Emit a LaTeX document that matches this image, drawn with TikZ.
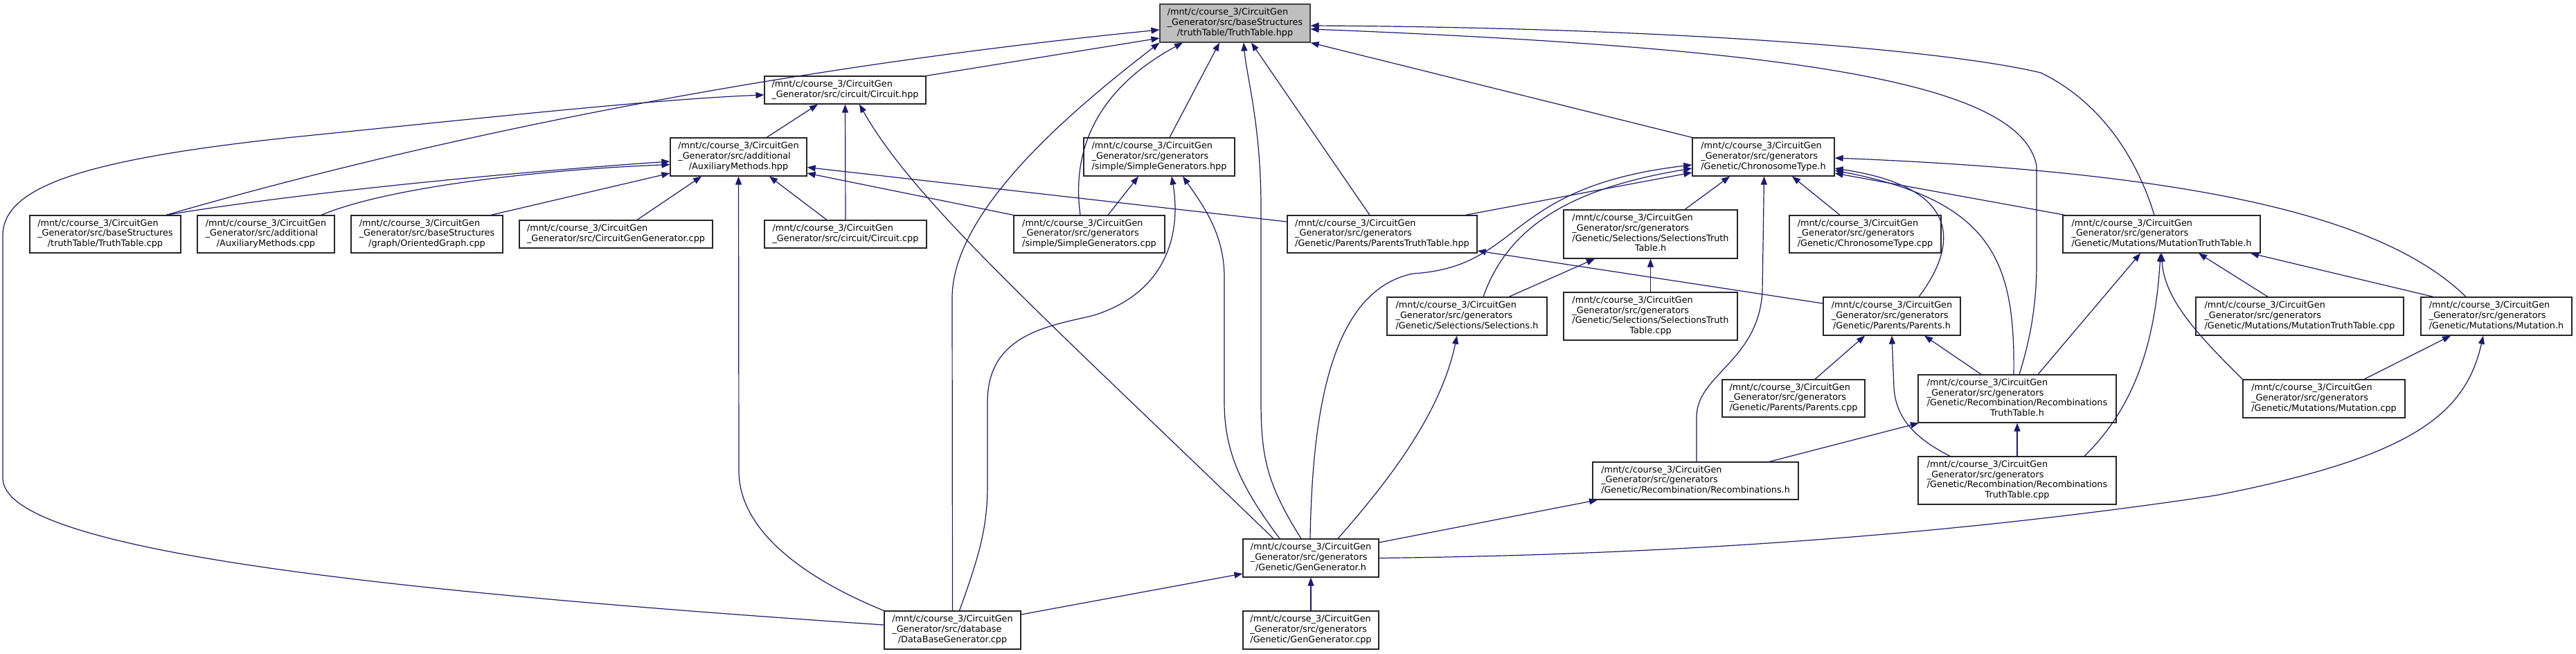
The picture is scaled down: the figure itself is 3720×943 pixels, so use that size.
\documentclass[tikz,border=0pt]{standalone}
\usepackage{fontspec}
\setmainfont{DejaVu Sans}
\usetikzlibrary{arrows.meta}

\definecolor{edgeblue}{HTML}{191970}
\definecolor{rootgray}{HTML}{BFBFBF}

\newcommand{\mnt}{/mnt/c/course\_3/CircuitGen}
\newcommand{\gensrc}{\mnt\\ \_Generator/src/generators}
\newcommand{\flines}[1]{\begin{tabular}{@{}l@{}}#1\end{tabular}}
\newcommand{\lastln}[1]{\multicolumn{1}{@{}c@{}}{#1}}

\begin{document}
\begin{tikzpicture}[x=1pt, y=-1pt,
  every node/.style={font=\fontsize{12.8}{14.7}\selectfont},
  file/.style={draw=black!85, fill=white, line width=1.2pt, inner sep=0pt},
  box/.style 2 args={minimum width=#1pt, minimum height=#2pt},
  dep/.style={draw=edgeblue, line width=1.2pt, -{Triangle[length=12pt,width=9pt]}}]

  \useasboundingbox (0,0) rectangle (3720,943);

  % Wurzel
  \node[file, box={217}{55}, fill=rootgray, draw=black!75] (root) at (1783.5,33.5)
    {\flines{\mnt\\ \_Generator/src/baseStructures\\ \lastln{/truthTable/TruthTable.hpp}}};

  % Ebene 1 und 2
  \node[file, box={233}{40}] (circhpp) at (1220.5,130) {\flines{\mnt\\ \lastln{\_Generator/src/circuit/Circuit.hpp}}};
  \node[file, box={197}{55}] (auxhpp) at (1066.5,226.5) {\flines{\mnt\\ \_Generator/src/additional\\ \lastln{/AuxiliaryMethods.hpp}}};
  \node[file, box={218}{55}] (simhpp) at (1674,226.5) {\flines{\gensrc\\ \lastln{/simple/SimpleGenerators.hpp}}};
  \node[file, box={205}{55}] (chrh) at (2546.5,226.5) {\flines{\gensrc\\ \lastln{/Genetic/ChronosomeType.h}}};

  % Ebene 3
  \node[file, box={218}{54}] (ttcpp) at (152,338) {\flines{\mnt\\ \_Generator/src/baseStructures\\ \lastln{/truthTable/TruthTable.cpp}}};
  \node[file, box={198}{54}] (auxcpp) at (384,338) {\flines{\mnt\\ \_Generator/src/additional\\ \lastln{/AuxiliaryMethods.cpp}}};
  \node[file, box={219}{54}] (ogcpp) at (616.5,338) {\flines{\mnt\\ \_Generator/src/baseStructures\\ \lastln{/graph/OrientedGraph.cpp}}};
  \node[file, box={279}{40}] (cggcpp) at (889.5,338) {\flines{\mnt\\ \lastln{\_Generator/src/CircuitGenGenerator.cpp}}};
  \node[file, box={234}{40}] (circcpp) at (1221,338) {\flines{\mnt\\ \lastln{\_Generator/src/circuit/Circuit.cpp}}};
  \node[file, box={218}{54}] (simcpp) at (1573,338) {\flines{\gensrc\\ \lastln{/simple/SimpleGenerators.cpp}}};
  \node[file, box={274}{54}] (pttdhpp) at (1996,338) {\flines{\gensrc\\ \lastln{/Genetic/Parents/ParentsTruthTable.hpp}}};
  \node[file, box={251}{70}] (seltth) at (2383.5,338) {\flines{\gensrc\\ /Genetic/Selections/SelectionsTruth\\ \lastln{Table.h}}};
  \node[file, box={219}{54}] (chrcpp) at (2693.5,338) {\flines{\gensrc\\ \lastln{/Genetic/ChronosomeType.cpp}}};
  \node[file, box={285}{54}] (muttth) at (3121.5,338) {\flines{\gensrc\\ \lastln{/Genetic/Mutations/MutationTruthTable.h}}};

  % Ebene 4
  \node[file, box={231}{55}] (selh) at (2118.5,456.5) {\flines{\gensrc\\ \lastln{/Genetic/Selections/Selections.h}}};
  \node[file, box={251}{69}] (seltcpp) at (2383.5,456.5) {\flines{\gensrc\\ /Genetic/Selections/SelectionsTruth\\ \lastln{Table.cpp}}};
  \node[file, box={198}{55}] (parh) at (2732,456.5) {\flines{\gensrc\\ \lastln{/Genetic/Parents/Parents.h}}};
  \node[file, box={300}{55}] (muttcpp) at (3321,456.5) {\flines{\gensrc\\ \lastln{/Genetic/Mutations/MutationTruthTable.cpp}}};
  \node[file, box={218}{55}] (muth) at (3605,456.5) {\flines{\gensrc\\ \lastln{/Genetic/Mutations/Mutation.h}}};

  % Ebene 5 und 6
  \node[file, box={206}{54}] (parcpp) at (2590,575) {\flines{\gensrc\\ \lastln{/Genetic/Parents/Parents.cpp}}};
  \node[file, box={286}{69}] (recttH) at (2913,575.5) {\flines{\gensrc\\ /Genetic/Recombination/Recombinations\\ \lastln{TruthTable.h}}};
  \node[file, box={234}{55}] (mutcpp) at (3356,575.5) {\flines{\gensrc\\ \lastln{/Genetic/Mutations/Mutation.cpp}}};
  \node[file, box={297}{54}] (rech) at (2448.5,694) {\flines{\gensrc\\ \lastln{/Genetic/Recombination/Recombinations.h}}};
  \node[file, box={286}{69}] (recttcpp) at (2913,693.5) {\flines{\gensrc\\ /Genetic/Recombination/Recombinations\\ \lastln{TruthTable.cpp}}};

  % Ebene 7 und 8
  \node[file, box={196}{55}] (genh) at (1893,805.5) {\flines{\gensrc\\ \lastln{/Genetic/GenGenerator.h}}};
  \node[file, box={197}{55}] (dbgcpp) at (1375.5,909.5) {\flines{\mnt\\ \_Generator/src/database\\ \lastln{/DataBaseGenerator.cpp}}};
  \node[file, box={196}{55}] (gencpp) at (1893,909.5) {\flines{\gensrc\\ \lastln{/Genetic/GenGenerator.cpp}}};

  % Kanten zur Wurzel
  \draw[dep] ([xshift=88pt]ttcpp.north) .. controls (500,235) and (1000,110) .. ([yshift=-9.5pt]root.west);
  \draw[dep] (circhpp.north east) -- ([yshift=-21.5pt]root.west);
  \draw[dep] (dbgcpp.north) -- (1375,430) .. controls (1375,300) and (1560,150) .. (root.south west);
  \draw[dep] ([xshift=-13pt]simcpp.north) .. controls (1545,200) and (1600,120) .. ([xshift=-75.5pt]root.south);
  \draw[dep] ([xshift=15pt]simhpp.north) -- ([xshift=-22.5pt]root.south);
  \draw[dep] ([xshift=-14pt]genh.north) .. controls (1830,700) and (1821,660) .. (1821,580) -- (1821,300)
    .. controls (1821,180) and (1800,110) .. ([xshift=12.5pt]root.south);
  \draw[dep] ([xshift=-18pt]pttdhpp.north) -- ([xshift=23.5pt]root.south);
  \draw[dep] (chrh.north west) -- (root.south east);
  \draw[dep] ([xshift=3pt]recttH.north) .. controls (2935,480) and (2941,430) .. (2941,380) -- (2941,240)
    .. controls (2920,120) and (2600,70) .. ([yshift=-8.5pt]root.east);
  \draw[dep] ([xshift=-10.5pt]muttth.north) .. controls (3080,210) and (3020,140) .. (2947,105)
    .. controls (2800,70) and (2400,40) .. ([yshift=-3.5pt]root.east);

  % Circuit.hpp
  \draw[dep] ([xshift=40.5pt]auxhpp.north) -- ([xshift=-39.5pt]circhpp.south);
  \draw[dep] (circcpp.north) -- (circhpp.south);
  \draw[dep] ([xshift=-54pt]genh.north) .. controls (1500,450) and (1320,290) .. ([xshift=20.5pt]circhpp.south);
  \draw[dep] ([yshift=7.5pt]dbgcpp.west) .. controls (500,850) and (4,790) .. (4,690) -- (4,340)
    .. controls (4,270) and (120,230) .. (423,198) .. controls (700,170) and (950,143) .. ([yshift=-7pt]circhpp.west);

  % AuxiliaryMethods.hpp
  \draw[dep] ([xshift=88pt]ttcpp.north) .. controls (420,280) and (720,250) .. ([yshift=-6.5pt]auxhpp.west);
  \draw[dep] ([xshift=80pt]auxcpp.north) .. controls (560,270) and (780,245) .. ([yshift=-11pt]auxhpp.west);
  \draw[dep] ([xshift=92.5pt]ogcpp.north) -- ([yshift=-23.5pt]auxhpp.west);
  \draw[dep] ([xshift=30.5pt]cggcpp.north) -- ([xshift=-53.5pt]auxhpp.south);
  \draw[dep] (dbgcpp.north west) .. controls (1150,830) and (1067,760) .. (1067,680) -- (auxhpp.south);
  \draw[dep] ([xshift=-27pt]circcpp.north) -- ([xshift=44.5pt]auxhpp.south);
  \draw[dep] (simcpp.north west) -- ([yshift=-23.5pt]auxhpp.east);
  \draw[dep] ([yshift=18pt]pttdhpp.west) -- ([yshift=-15pt]auxhpp.east);

  % SimpleGenerators.hpp
  \draw[dep] ([xshift=27pt]simcpp.north) -- ([xshift=-30pt]simhpp.south);
  \draw[dep] ([xshift=10pt]dbgcpp.north) .. controls (1415,800) and (1426,760) .. (1426,700) -- (1426,580)
    .. controls (1426,480) and (1520,470) .. (1580,455) .. controls (1690,420) and (1705,330) .. ([xshift=18pt]simhpp.south);
  \draw[dep] ([xshift=-45pt]genh.north) .. controls (1790,700) and (1768,650) .. (1768,580) -- (1768,400)
    .. controls (1768,340) and (1740,300) .. ([xshift=34pt]simhpp.south);

  % ChronosomeType.h
  \draw[dep] ([xshift=120pt]pttdhpp.north) -- ([yshift=-22.5pt]chrh.west);
  \draw[dep] ([xshift=23.5pt]selh.north) .. controls (2180,320) and (2280,270) .. ([yshift=-16.5pt]chrh.west);
  \draw[dep] ([xshift=-1pt]genh.north) .. controls (1895,600) and (1920,420) .. (2040,395)
    .. controls (2200,385) and (2170,270) .. ([yshift=-11.5pt]chrh.west);
  \draw[dep] ([xshift=49.5pt]seltth.north) -- ([xshift=-48.5pt]chrh.south);
  \draw[dep] ([xshift=1.5pt]rech.north) -- (2450,600) .. controls (2452,540) and (2540,520) .. (2545,420) -- ([xshift=1pt]chrh.south);
  \draw[dep] ([xshift=-36.5pt]chrcpp.north) -- ([xshift=41.5pt]chrh.south);
  \draw[dep] ([xshift=-44pt]muth.north) .. controls (3450,320) and (3200,250) .. ([yshift=-1.5pt]chrh.east);
  \draw[dep] ([xshift=-139.5pt]muttth.north) -- ([yshift=-23.5pt]chrh.east);
  \draw[dep] ([xshift=39pt]parh.north) .. controls (2830,350) and (2830,270) .. ([yshift=-16.5pt]chrh.east);
  \draw[dep] ([xshift=-5pt]recttH.north) .. controls (2910,380) and (2880,290) .. ([yshift=-19.5pt]chrh.east);

  % MutationTruthTable.h
  \draw[dep] ([xshift=30pt]recttH.north) -- ([xshift=-30.5pt]muttth.south);
  \draw[dep] ([xshift=97pt]recttcpp.north) .. controls (3080,590) and (3112,500) .. ([xshift=-1.5pt]muttth.south);
  \draw[dep] (mutcpp.north west) .. controls (3170,480) and (3125,430) .. (muttth.south);
  \draw[dep] ([xshift=-46pt]muttcpp.north) -- ([xshift=53.5pt]muttth.south);
  \draw[dep] ([xshift=-91pt]muth.north) -- ([xshift=128.5pt]muttth.south);

  % Mutation.h
  \draw[dep] ([xshift=58pt]mutcpp.north) -- ([xshift=-66pt]muth.south);
  \draw[dep] (genh.east) .. controls (2500,800) and (2900,760) .. (3200,715)
    .. controls (3480,660) and (3560,600) .. ([xshift=-19pt]muth.south);

  % Parents
  \draw[dep] ([xshift=31pt]parcpp.north) -- ([xshift=-39pt]parh.south);
  \draw[dep] ([xshift=-97pt]recttcpp.north) .. controls (2760,630) and (2738,600) .. (2735,560) -- (parh.south);
  \draw[dep] ([xshift=-52pt]recttH.north) -- ([xshift=47pt]parh.south);
  \draw[dep] ([yshift=18.5pt]parh.west) -- ([yshift=-24pt]pttdhpp.east);

  % Selections
  \draw[dep] ([xshift=39pt]genh.north) .. controls (2000,700) and (2080,600) .. ([xshift=-14.5pt]selh.south);
  \draw[dep] ([xshift=60.5pt]selh.north) -- ([xshift=-80.5pt]seltth.south);
  \draw[dep] (seltcpp.north) -- (seltth.south);

  % Recombination
  \draw[dep] ([yshift=22.5pt]genh.east) -- ([xshift=-141.5pt]rech.south);
  \draw[dep] ([xshift=106.5pt]rech.north) -- ([xshift=-142pt]recttH.south);
  \draw[dep] (recttcpp.north) -- (recttH.south);

  % GenGenerator.h
  \draw[dep] (gencpp.north) -- (genh.south);
  \draw[dep] ([yshift=22.5pt]dbgcpp.east) -- ([yshift=-22.5pt]genh.west);
\end{tikzpicture}
\end{document}
